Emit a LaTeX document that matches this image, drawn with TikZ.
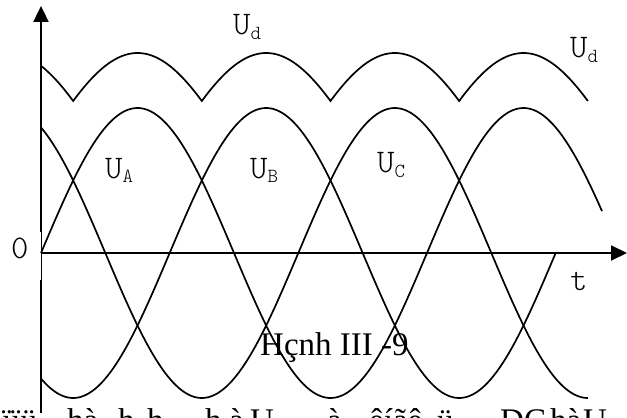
\documentclass[tikz,border=0pt]{standalone}
\usepackage{fontspec}
\setmainfont{Liberation Serif}
\usetikzlibrary{arrows.meta}
\newcommand\lsub[1]{\raisebox{-5pt}{\fontsize{20}{20}\selectfont #1}}

\begin{document}
\begin{tikzpicture}[x=1pt, y=1pt, >={Triangle[width=15pt,length=16pt]},
  axis/.style={line width=2.4pt},
  wave/.style={line width=1.7pt, samples=200, smooth},
  lbl/.style={font=\fontsize{33}{33}\fontseries{l}\ttfamily\addfontfeature{FakeStretch=1.15},
    inner sep=0pt, anchor=base west},
  captext/.style={font=\fontsize{33}{33}\selectfont, inner sep=0pt, anchor=base west}]
  \useasboundingbox (-41,-165) rectangle (586,253);
  \clip (-41,-165) rectangle (586,253);
  % axes
  \coordinate (o) at (0,0);
  \coordinate (ytop) at (0,247);
  \coordinate (ybot) at (0,-160);
  \coordinate (xend) at (586,0);
  \draw[axis,->] (0,21) -- (ytop);
  \draw[line width=1pt] (0,21) -- (0,-27);
  \draw[axis] (0,-27) -- (ybot);
  \draw[line width=2pt,->] (o) -- (xend);
  % three phases
  \draw[wave, domain=0:561] plot (\x, {145*sin(0.932642*\x)});
  \draw[wave, domain=0:514.67] plot (\x, {145*sin(0.932642*\x-120)});
  \draw[wave, domain=0:547] plot (\x, {145*sin(0.932642*\x+120)});
  % rectified
  \draw[line width=1.7pt, domain=0:546.83, samples=341]
    plot (\x, {104+96*max(sin(0.932642*\x), sin(0.932642*\x-120), sin(0.932642*\x+120))});
  \node[lbl] (ud1) at (192,218) {U\lsub{d}};
  \node[lbl] (ud2) at (529,195) {U\lsub{d}};
  \node[lbl] (ua) at (64,75) {U\lsub{A}};
  \node[lbl] (ub) at (209,75) {U\lsub{B}};
  \node[lbl] (uc) at (336,81) {U\lsub{C}};
  \node[lbl] (zero) at (-30,-5) {0};
  \node[lbl] (tl) at (529,-37) {t};
  \node[captext] (fig) at (219,-102) {Hçnh III -9};
  % cut line of text below
  \foreach \x/\t [count=\i] in {2/ïïü, 67/hà, 118/h, 147/h, 205/h, 229/à, 250/U,
      327/à, 369/êíãê, 437/ü, 500/DC, 550/hà, 583/U}
    \node[captext] (w\i) at (\x-41,-178) {\t};
\end{tikzpicture}
\end{document}
